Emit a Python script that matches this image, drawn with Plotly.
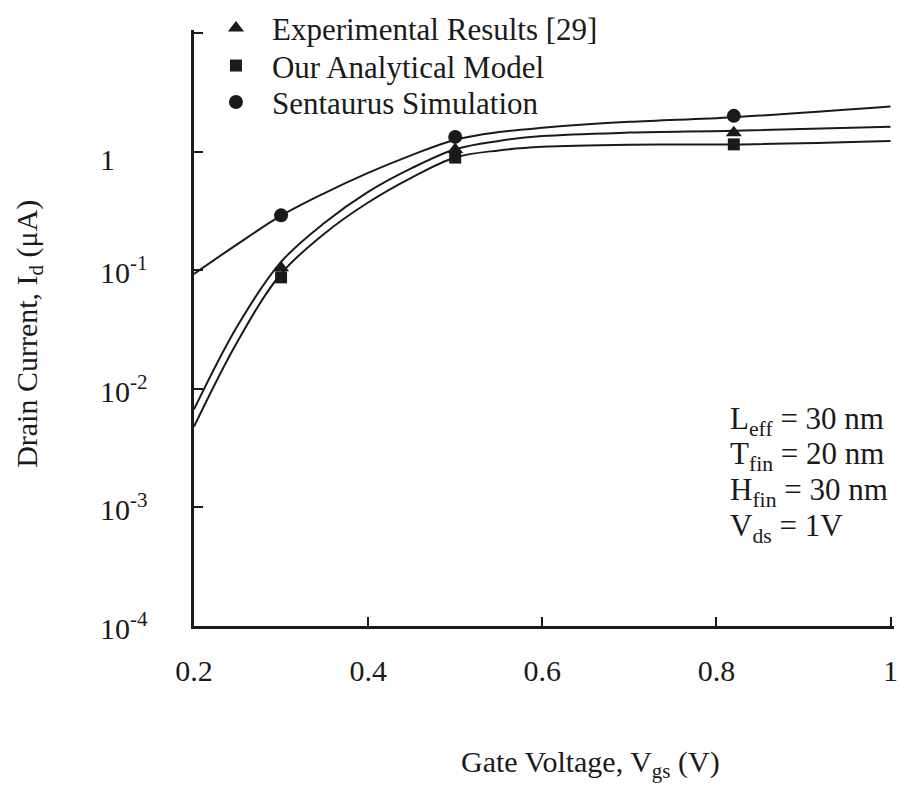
import plotly.graph_objects as go
import numpy as np

# ---- data ----
marker_vgs = [0.3, 0.5, 0.82]
exp_id = [0.105, 1.04, 1.44]        # Experimental Results [29]
model_id = [0.087, 0.89, 1.15]      # Our Analytical Model
sim_id = [0.29, 1.33, 2.0]          # Sentaurus Simulation

sim_curve_vgs = [0.2, 0.25, 0.3, 0.35, 0.4, 0.45, 0.5, 0.55, 0.6, 0.7, 0.82, 1.0]
sim_curve_id = [0.093, 0.166, 0.288, 0.447, 0.661, 0.933, 1.26, 1.46, 1.585, 1.78, 1.95, 2.40]

exp_curve_vgs = [0.2, 0.25, 0.3, 0.35, 0.4, 0.45, 0.5, 0.55, 0.6, 0.7, 0.82, 1.0]
exp_curve_id = [0.0067, 0.034, 0.1175, 0.251, 0.457, 0.724, 1.047, 1.23, 1.35, 1.445, 1.50, 1.62]

model_curve_vgs = [0.2, 0.25, 0.3, 0.35, 0.4, 0.45, 0.5, 0.55, 0.6, 0.7, 0.82, 1.0]
model_curve_id = [0.0048, 0.0251, 0.0933, 0.204, 0.372, 0.603, 0.891, 1.023, 1.096, 1.143, 1.148, 1.23]

x_ticks = [0.2, 0.4, 0.6, 0.8, 1.0]
x_tick_text = ["0.2", "0.4", "0.6", "0.8", "1"]
y_ticks = [1e-4, 1e-3, 1e-2, 1e-1, 1, 10]
y_tick_text = ["10<sup>-4</sup>", "10<sup>-3</sup>", "10<sup>-2</sup>", "10<sup>-1</sup>", "1", ""]

legend_names = ["Experimental Results [29]", "Our Analytical Model", "Sentaurus Simulation"]

param_lines = ["L<sub>eff</sub> = 30 nm", "T<sub>fin</sub> = 20 nm",
               "H<sub>fin</sub> = 30 nm", "V<sub>ds</sub> = 1V"]
param_y = [1e-2 / 10**0.27, 1e-2 / 10**0.57, 1e-2 / 10**0.87, 1e-2 / 10**1.17]

FONT = "Liberation Serif, Times New Roman, serif"
FS = 30
LFS = 31
INK = "#1a1a1a"

fig = go.Figure()

for xs, ys in [(sim_curve_vgs, sim_curve_id), (exp_curve_vgs, exp_curve_id),
               (model_curve_vgs, model_curve_id)]:
    fig.add_trace(go.Scatter(x=xs, y=ys, mode="lines", showlegend=False,
                             line=dict(color=INK, width=2, shape="spline", smoothing=1.0),
                             hoverinfo="skip"))

fig.add_trace(go.Scatter(x=marker_vgs, y=exp_id, mode="markers", name=legend_names[0],
                         legend="legend",
                         marker=dict(symbol="triangle-up", size=14, color=INK)))
fig.add_trace(go.Scatter(x=marker_vgs, y=model_id, mode="markers", name=legend_names[1],
                         legend="legend2",
                         marker=dict(symbol="square", size=12, color=INK)))
fig.add_trace(go.Scatter(x=marker_vgs, y=sim_id, mode="markers", name=legend_names[2],
                         legend="legend3",
                         marker=dict(symbol="circle", size=14, color=INK)))

L, R, T, B = 194, 1, 22, 159
W, H = 899, 785
pw = W - L - R
ph = H - T - B

def px_x(p):
    return (p - L) / pw

def px_y(p):
    return (H - B - p) / ph

annotations = []
for v, t in zip(y_ticks, y_tick_text):
    if t:
        annotations.append(dict(x=px_x(97), xref="paper", y=np.log10(v), yref="y",
                                text=t, showarrow=False, xanchor="left", yanchor="middle",
                                yshift=(-8 if t == "1" else 0),
                                font=dict(family=FONT, size=FS, color=INK)))
for t, yv in zip(param_lines, param_y):
    annotations.append(dict(x=px_x(731), xref="paper", y=np.log10(yv), yref="y",
                            text=t, showarrow=False, xanchor="left", yanchor="middle",
                            font=dict(family=FONT, size=31, color=INK)))
annotations.append(dict(x=px_x(593), xref="paper", y=px_y(766), yref="paper",
                        text="Gate Voltage, V<sub>gs</sub> (V)", showarrow=False,
                        xanchor="center", yanchor="middle",
                        font=dict(family=FONT, size=FS, color=INK)))
annotations.append(dict(x=px_x(28), xref="paper", y=px_y(330), yref="paper",
                        text="Drain Current, I<sub>d</sub> (\u03bcA)", showarrow=False, textangle=-90,
                        xanchor="center", yanchor="middle",
                        font=dict(family=FONT, size=FS, color=INK)))

def leg(top_px):
    return dict(x=px_x(200), y=px_y(top_px), xanchor="left", yanchor="top",
                bgcolor="rgba(0,0,0,0)", font=dict(family=FONT, size=LFS, color=INK),
                itemwidth=62)

fig.update_layout(
    width=W, height=H,
    margin=dict(l=L, r=R, t=T, b=B),
    paper_bgcolor="white", plot_bgcolor="white",
    font=dict(family=FONT, size=FS, color=INK),
    showlegend=True,
    legend=leg(-7), legend2=leg(31), legend3=leg(68),
    annotations=annotations,
    xaxis=dict(range=[0.2, 1.004], tickvals=x_ticks, ticktext=x_tick_text,
               showline=True, linecolor=INK, linewidth=2.5, ticks="inside",
               ticklen=9, tickwidth=2, tickcolor=INK, showgrid=False, zeroline=False,
               ticklabelstandoff=16, ticklabeloverflow="allow",
               tickfont=dict(family=FONT, size=FS)),
    yaxis=dict(type="log", range=[-4, 1.025], tickvals=y_ticks, showticklabels=False,
               showline=True, linecolor=INK, linewidth=2.5, ticks="inside",
               ticklen=9, tickwidth=2, tickcolor=INK, showgrid=False, zeroline=False),
)

fig.write_html("out.html")
